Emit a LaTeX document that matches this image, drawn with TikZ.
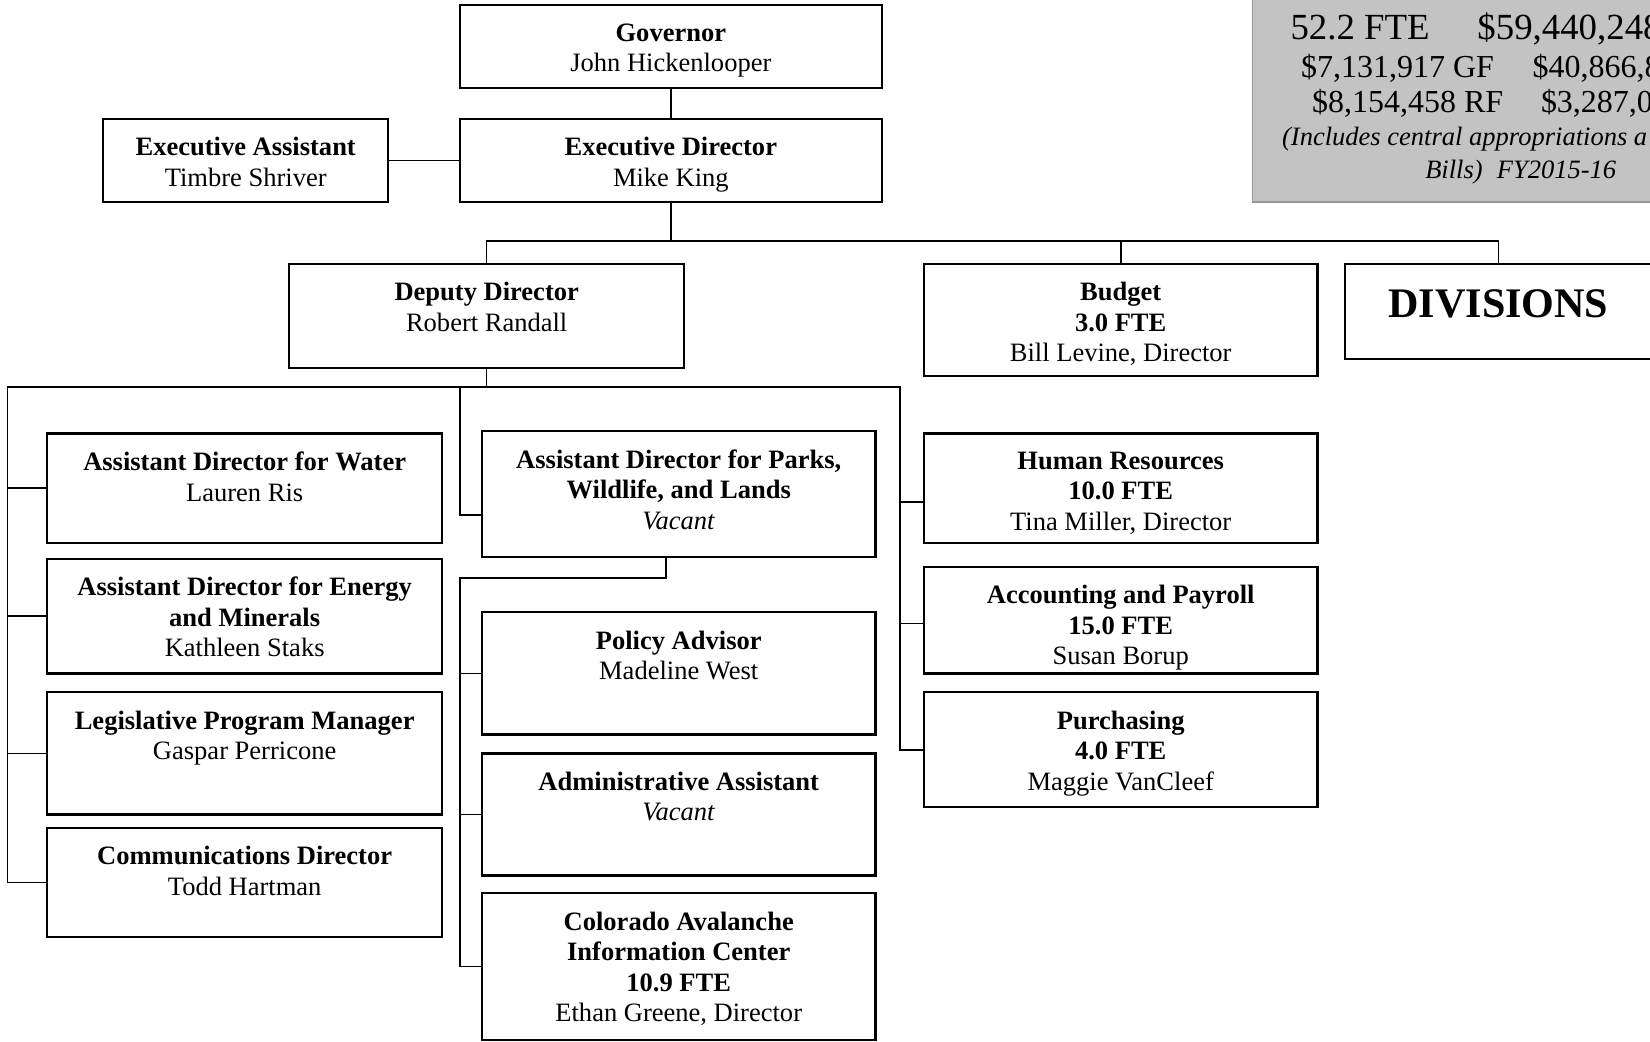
\documentclass[tikz,border=0pt]{standalone}
\usepackage{fontspec}
\setmainfont{Liberation Serif}
\usetikzlibrary{calc}
\definecolor{statgrey}{RGB}{195,195,195}
\definecolor{shadegrey}{RGB}{150,150,150}
\tikzset{
  box/.style={rectangle,draw=black,line width=1pt,inner sep=0pt},
  lbl/.style={anchor=north,align=center,inner sep=0pt},
  stat/.style={anchor=base west,inner sep=0pt},
  link/.style={draw=black,line width=0.75pt}
}

\begin{document}
\begin{tikzpicture}[x=0.5pt,y=-0.5pt,font=\fontsize{12.6}{14.5}\selectfont]
      \clip (0,0) rectangle (1568,990);
      \fill[shadegrey] (1190,-10) rectangle (1580,193);
      \fill[statgrey] (1191,-10) rectangle (1580,191);
      \foreach \n/\x/\y/\w/\h in {gov/637.5/44.5/401/79, ed/637.5/152.5/401/79, ea/233.5/152.5/271/79,
          dd/462.5/300.5/375/99, budget/1065/304/374/106, div/1424/296/292/90,
          water/232.5/464/375/104, energy/232.5/585.5/375/109, legis/232.5/716/375/116, comms/232.5/838.5/375/103,
          parks/645/469.5/374/119, policy/645/640/374/116, admin/645/774/374/116, cair/645/918.5/374/139,
          hr/1065/464/374/104, acct/1065/589.5/374/101, purch/1065/712.5/374/109}{
        \node (\n) [box, minimum width=\w*0.5pt, minimum height=\h*0.5pt] at (\x,\y){};
      }
      \foreach \n/\t in {gov/{\textbf{Governor}\\John Hickenlooper},
          ed/{\textbf{Executive Director}\\Mike King},
          ea/{\textbf{Executive Assistant}\\Timbre Shriver},
          dd/{\textbf{Deputy Director}\\Robert Randall},
          budget/{\textbf{Budget}\\\textbf{3.0 FTE}\\Bill Levine, Director},
          water/{\textbf{Assistant Director for Water}\\Lauren Ris},
          energy/{\textbf{Assistant Director for Energy}\\\textbf{and Minerals}\\Kathleen Staks},
          legis/{\textbf{Legislative Program Manager}\\Gaspar Perricone},
          comms/{\textbf{Communications Director}\\Todd Hartman},
          parks/{\textbf{Assistant Director for Parks,}\\\textbf{Wildlife, and Lands}\\\textit{Vacant}},
          policy/{\textbf{Policy Advisor}\\Madeline West},
          admin/{\textbf{Administrative Assistant}\\\textit{Vacant}},
          cair/{\textbf{Colorado Avalanche}\\\textbf{Information Center}\\\textbf{10.9 FTE}\\Ethan Greene, Director},
          hr/{\textbf{Human Resources}\\\textbf{10.0 FTE}\\Tina Miller, Director},
          acct/{\textbf{Accounting and Payroll}\\\textbf{15.0 FTE}\\Susan Borup},
          purch/{\textbf{Purchasing}\\\textbf{4.0 FTE}\\Maggie VanCleef}}{
        \node (\n-t) [lbl] at ($ (\n.north)+(0,18) $) {\t};
      }
      \node (div-t) [lbl, font=\bfseries\fontsize{20}{24}\selectfont] at ($ (div.north)+(0,25) $) {DIVISIONS};
      \foreach \x/\y/\t in {1226/37.6/{52.2 FTE}, 1403.6/37.6/{\$59,440,248}}{
        \node (s\x) [stat, font=\fontsize{17.5}{20}\selectfont] at (\x,\y) {\t};
      }
      \foreach \x/\y/\t in {1236/73.5/{\$7,131,917 GF}, 1456/73.5/{\$40,866,8},
          1246.5/107/{\$8,154,458 RF}, 1464/107/{\$3,287,0}}{
        \node (s\x) [stat, font=\fontsize{15.2}{17}\selectfont] at (\x,\y) {\t};
      }
      \foreach \x/\y/\t in {1218/138.5/{(Includes central appropriations a}, 1354/169.5/{Bills)}, 1422/169.5/{FY2015-16}}{
        \node (s\x) [stat, font=\itshape\fontsize{12.6}{14.5}\selectfont] at (\x,\y) {\t};
      }
      \coordinate (topbus) at (633,229);
      \coordinate (lbus) at (7,368);
      \coordinate (mbus) at (437,368);
      \coordinate (rbus) at (855,368);
      \coordinate (pbus) at (437,549);
      \draw [link] (gov) -- (ed);
      \draw [link] (ea) -- (ed);
      \draw [link] (ed.south) -- (ed.south |- topbus);
      \draw [link] (dd.north) |- (div.north |- topbus) -- (div.north);
      \draw [link] (budget.north) -- (budget.north |- topbus);
      \draw [link] (dd.south) -- (dd.south |- lbus);
      \draw [link] (comms.west) -| (lbus) -- (rbus) |- (purch.west);
      \foreach \n in {water,energy,legis}{
        \draw [link] (\n.west) -- (\n.west -| lbus);
      }
      \draw [link] (mbus) |- ($ (parks.west)+(0,20) $);
      \draw [link] ($ (parks.south)+(-12,0) $) |- (pbus) |- (cair.west);
      \foreach \n in {policy,admin}{
        \draw [link] (\n.west) -- (\n.west -| pbus);
      }
      \draw [link] ($ (hr.west)+(0,13) $) -- ($ (hr.west -| rbus)+(0,13) $);
      \draw [link] ($ (acct.west)+(0,3) $) -- ($ (acct.west -| rbus)+(0,3) $);
    \end{tikzpicture}
\end{document}
